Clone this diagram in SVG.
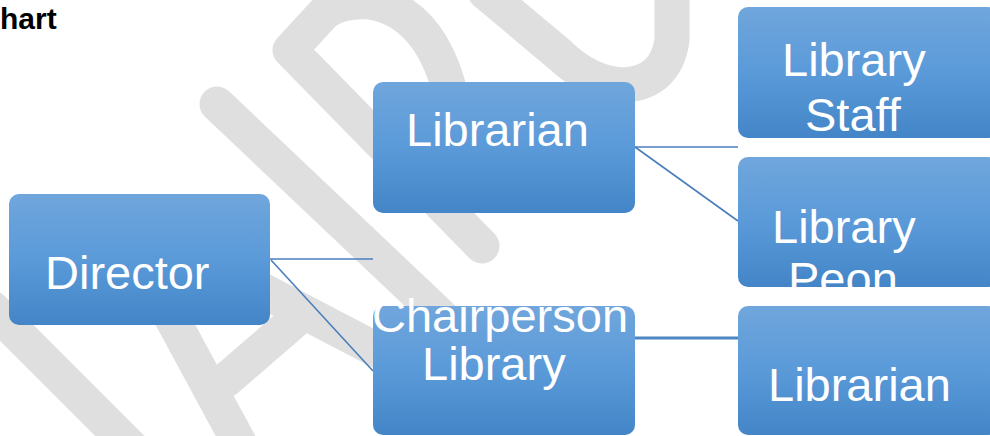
<svg xmlns="http://www.w3.org/2000/svg" width="990" height="436" viewBox="0 0 990 436">
<style>
.wm{fill:none;stroke:#dfdfdf;stroke-width:35;stroke-linecap:round;stroke-linejoin:round}
.box{fill:url(#g)}
.t{font-family:"Liberation Sans",Arial,sans-serif;font-size:47px;fill:#ffffff}
.c{fill:none;stroke:#4a7ebb;stroke-width:1.6}
.hd{font-family:"Liberation Sans",Arial,sans-serif;font-size:30px;font-weight:bold;fill:#000}
</style>
<defs>
<linearGradient id="g" x1="0" y1="0" x2="0" y2="1">
<stop offset="0" stop-color="#70a6dc"/>
<stop offset="0.5" stop-color="#5a9ad9"/>
<stop offset="1" stop-color="#4385c7"/>
</linearGradient>
<clipPath id="peonClip"><rect x="738" y="157" width="260" height="130" rx="10"/></clipPath>
</defs>
<rect width="990" height="436" fill="#ffffff"/>
<g id="watermark">
<path class="wm" d="M482,246 L290,50 L325,12 Q342,0 370,2 Q432,12 452,100"/>
<path class="wm" d="M217,104 L445,320"/>
<path class="wm" d="M485,-8 L560,55 Q590,84 625,85 Q666,82 672,40 L672,-8"/>
<path class="wm" d="M-8,308 L132,448"/>
<path class="wm" d="M162,300 L242,448"/>
<path class="wm" d="M226,380 L300,316"/>
<path class="wm" d="M262,290 L392,358"/>
</g>
<text class="hd" x="0" y="29">hart</text>
<g id="connectors">
<line class="c" x1="270" y1="259" x2="373" y2="259"/>
<line class="c" x1="271" y1="260" x2="373" y2="371"/>
<line class="c" x1="635" y1="147" x2="738" y2="147"/>
<line class="c" x1="635" y1="147" x2="738" y2="221"/>
<line x1="634" y1="338" x2="746" y2="338" stroke="#4f86c4" stroke-width="3"/>
</g>
<g id="director">
<rect class="box" x="9" y="194" width="261" height="131" rx="10"/>
<text class="t" x="45" y="289">Director</text>
</g>
<g id="librarian-top">
<rect class="box" x="373" y="82" width="262" height="131" rx="10"/>
<text class="t" x="406" y="146">Librarian</text>
</g>
<g id="chairperson">
<rect class="box" x="373" y="306" width="262" height="129" rx="10"/>
<text class="t" x="372" y="332">Chairperson</text>
<text class="t" x="422" y="380">Library</text>
</g>
<g id="library-staff">
<rect class="box" x="738" y="7" width="260" height="131" rx="10"/>
<text class="t" x="782" y="76">Library</text>
<text class="t" x="805" y="131">Staff</text>
</g>
<g id="library-peon">
<rect class="box" x="738" y="157" width="260" height="130" rx="10"/>
<g clip-path="url(#peonClip)">
<text class="t" x="772" y="243">Library</text>
<text class="t" x="788" y="295">Peon</text>
</g>
</g>
<g id="librarian-bottom">
<rect class="box" x="738" y="306" width="260" height="129" rx="10"/>
<text class="t" x="768" y="401">Librarian</text>
</g>
</svg>
